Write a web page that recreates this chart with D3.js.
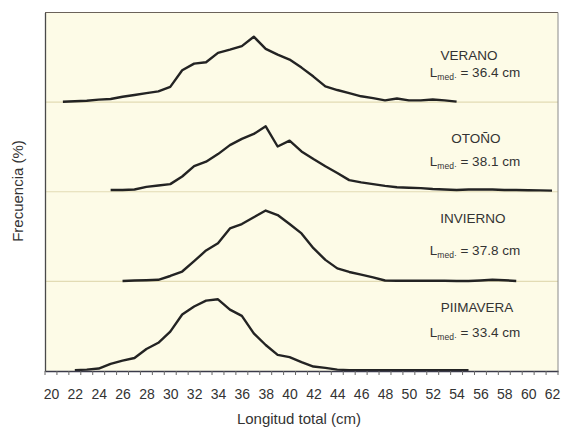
<!DOCTYPE html>
<html><head><meta charset="utf-8">
<script src="https://cdn.jsdelivr.net/npm/d3@7"></script>
<style>html,body{margin:0;padding:0;background:#fff;}svg{display:block;}</style>
</head><body>
<svg id="chart" width="562" height="427"></svg>
<script>
// ---- data (frequency %, by total length cm) ----
const categories = d3.range(20, 63);            // 20 .. 62 cm
const tickLabels = d3.range(20, 63, 2);         // labelled every 2 cm
const seasons = ["VERANO", "OTOÑO", "INVIERNO", "PIIMAVERA"];
const medians = ["36.4", "38.1", "37.8", "33.4"];
const starts = [21, 25, 26, 22];
const verano = [0.1,0.2,0.3,0.55,0.7,1.2,1.6,2.0,2.4,3.4,7.1,8.6,8.9,11.0,11.7,12.5,14.6,11.9,10.6,9.5,7.7,5.7,3.5,2.7,2.0,1.3,0.9,0.4,0.8,0.4,0.4,0.6,0.4,0.1];
const otono = [0.4,0.4,0.5,1.1,1.4,1.7,3.4,5.7,6.7,8.4,10.4,11.8,12.9,14.6,10.1,11.4,9.0,7.3,5.7,4.2,2.6,2.1,1.7,1.3,1.0,0.9,0.8,0.6,0.5,0.4,0.5,0.5,0.5,0.4,0.4,0.35,0.3,0.25];
const invierno = [0.1,0.2,0.25,0.35,1.2,2.2,4.5,6.9,8.5,11.8,12.8,14.3,15.8,14.8,12.8,10.7,7.4,4.8,2.9,2.1,1.5,0.9,0.2,0.15,0.15,0.15,0.15,0.15,0.1,0.1,0.2,0.35,0.25,0.1];
const primavera = [0.2,0.3,0.55,1.6,2.3,2.9,4.9,6.3,8.8,12.6,14.4,15.7,16.0,13.7,12.3,8.4,5.8,3.6,3.1,2.0,1.0,0.7,0.3,0.2,0.2,0.2,0.2,0.2,0.2,0.2,0.2,0.2,0.2,0.2];
const seriesValues = [verano, otono, invierno, primavera];

// ---- layout ----
const svg = d3.select("#chart");
const L = 45, R = 558, T = 12.5, B = 371;
const panelH = (B - T) / 4;
const x = d3.scaleLinear().domain([categories[0] - 0.5, categories[categories.length - 1] + 0.5]).range([L, R]);
const font = "'Liberation Sans', Arial, sans-serif";

svg.append("rect").attr("x", L).attr("y", T).attr("width", R - L).attr("height", B - T)
  .attr("fill", "#fdfbe7");

// panel dividers
for (let i = 1; i < 4; i++) {
  svg.append("line").attr("x1", L).attr("x2", R)
    .attr("y1", T + panelH * i).attr("y2", T + panelH * i)
    .attr("stroke", "#e2dbb4").attr("stroke-width", 1.2);
}

// border
svg.append("line").attr("x1", L).attr("x2", R).attr("y1", T).attr("y2", T).attr("stroke", "#6b625a").attr("stroke-width", 1.2);
svg.append("line").attr("x1", R).attr("x2", R).attr("y1", T).attr("y2", B).attr("stroke", "#8a8a8a").attr("stroke-width", 1);

// series
seriesValues.forEach((vals, i) => {
  const base = T + panelH * (i + 1);
  const y = d3.scaleLinear().domain([0, 20]).range([base, base - panelH]);
  const pts = vals.map((v, k) => [starts[i] + k, v]);
  svg.append("path").datum(pts)
    .attr("fill", "none").attr("stroke", "#232323").attr("stroke-width", 2.4)
    .attr("stroke-linejoin", "round")
    .attr("d", d3.line().x(d => x(d[0])).y(d => y(d[1])));
});

// axes
const xAxis = d3.axisBottom(x).tickValues(tickLabels).tickSize(0).tickPadding(18).tickFormat(d3.format("d"));
const gx = svg.append("g").attr("transform", `translate(0,${B})`).call(xAxis);
gx.select(".domain").attr("stroke", "#3a3a4a").attr("stroke-width", 1.3);
gx.selectAll("text").attr("font-family", font).attr("font-size", 14).attr("fill", "#333");
// minor ticks at category boundaries
svg.append("g").selectAll("line").data(d3.range(categories.length + 1))
  .join("line")
  .attr("x1", k => x(categories[0] - 0.5 + k)).attr("x2", k => x(categories[0] - 0.5 + k))
  .attr("y1", B).attr("y2", B + 4).attr("stroke", "#666").attr("stroke-width", 1);

const gy = svg.append("g").attr("transform", `translate(${L},0)`)
  .call(d3.axisLeft(d3.scaleLinear().domain([0, 1]).range([B, T])).tickValues([]).tickSizeOuter(0));
gy.select(".domain").attr("stroke", "#4a4a4a").attr("stroke-width", 1.3);

// axis titles
svg.append("text").attr("x", 299).attr("y", 424).attr("text-anchor", "middle")
  .attr("font-family", font).attr("font-size", 15).attr("fill", "#333").text("Longitud total (cm)");
svg.append("text").attr("transform", "translate(23,191) rotate(-90)").attr("text-anchor", "middle")
  .attr("font-family", font).attr("font-size", 15).attr("fill", "#333").text("Frecuencia (%)");

// panel labels
const titleY = [60, 143, 223, 312];
const medY = [77, 166, 255, 337];
const titleX = [469, 476, 473, 477];
seasons.forEach((s, i) => {
  svg.append("text").attr("x", titleX[i]).attr("y", titleY[i]).attr("text-anchor", "middle")
    .attr("font-family", font).attr("font-size", 13.5).attr("fill", "#333").text(s);
  const t = svg.append("text").attr("x", 475).attr("y", medY[i]).attr("text-anchor", "middle")
    .attr("font-family", font).attr("font-size", 13.5).attr("fill", "#333");
  t.append("tspan").text("L");
  t.append("tspan").attr("font-size", 8.5).attr("dy", 3).text("med·");
  t.append("tspan").attr("dy", -3).text(" = " + medians[i] + " cm");
});
</script>
</body></html>
